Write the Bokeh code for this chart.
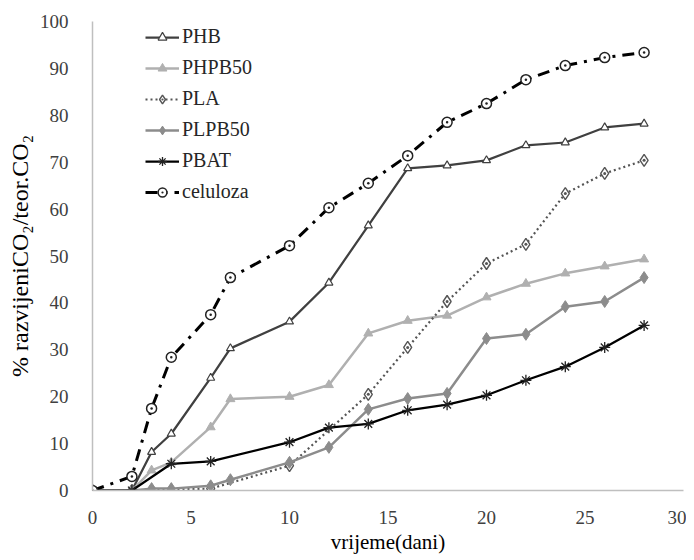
from bokeh.plotting import figure
from bokeh.models import Range1d, FixedTicker, Legend, LegendItem
from bokeh.embed import file_html
from bokeh.resources import INLINE

# ---- data ----
days_phb = [0, 2, 3, 4, 6, 7, 10, 12, 14, 16, 18, 20, 22, 24, 26, 28]
phb = [0, 0, 8.2, 12.1, 24, 30.3, 36, 44.3, 56.5, 68.7, 69.3, 70.4, 73.6, 74.2, 77.4, 78.2]

days_phpb50 = [0, 2, 3, 4, 6, 7, 10, 12, 14, 16, 18, 20, 22, 24, 26, 28]
phpb50 = [0, 0, 4.3, 6, 13.5, 19.5, 20, 22.5, 33.5, 36.2, 37.3, 41.2, 44.1, 46.3, 47.8, 49.3]

days_pla = [0, 2, 6, 10, 14, 16, 18, 20, 22, 24, 26, 28]
pla = [0, 0, 0.4, 5.3, 20.5, 30.5, 40.3, 48.4, 52.5, 63.3, 67.6, 70.4]

days_plpb50 = [0, 2, 3, 4, 6, 7, 10, 12, 14, 16, 18, 20, 22, 24, 26, 28]
plpb50 = [0, 0, 0.4, 0.4, 1, 2.3, 6, 9.2, 17.3, 19.6, 20.7, 32.4, 33.3, 39.2, 40.3, 45.4]

days_pbat = [0, 2, 4, 6, 10, 12, 14, 16, 18, 20, 22, 24, 26, 28]
pbat = [0, 0, 5.7, 6.2, 10.3, 13.4, 14.2, 17.1, 18.3, 20.3, 23.5, 26.4, 30.5, 35.2]

days_cel = [0, 2, 3, 4, 6, 7, 10, 12, 14, 16, 18, 20, 22, 24, 26, 28]
celuloza = [0, 3, 17.5, 28.4, 37.5, 45.4, 52.2, 60.3, 65.5, 71.4, 78.5, 82.5, 87.6, 90.6, 92.3, 93.4]

x_ticks = [0, 5, 10, 15, 20, 25, 30]
y_ticks = [0, 10, 20, 30, 40, 50, 60, 70, 80, 90, 100]

FONT = "Times New Roman"

p = figure(frame_width=591, frame_height=469, output_backend="svg", toolbar_location=None,
           x_range=Range1d(0, 30), y_range=Range1d(0, 100),
           min_border_left=92, min_border_right=3, min_border_top=21, min_border_bottom=62)
p.outline_line_color = None
p.xgrid.visible = False
p.ygrid.visible = False
p.background_fill_color = "white"

for ax in (p.xaxis[0], p.yaxis[0]):
    ax.axis_line_color = "#bfbfbf"
    ax.axis_line_width = 1.5
    ax.major_tick_line_color = None
    ax.minor_tick_line_color = None
    ax.major_label_text_font = FONT
    ax.major_label_text_font_size = "19px"
    ax.major_label_text_color = "#404040"
    ax.axis_label_text_font = FONT
    ax.axis_label_text_font_style = "normal"
    ax.axis_label_text_color = "#000000"

p.xaxis.ticker = FixedTicker(ticks=x_ticks)
p.yaxis.ticker = FixedTicker(ticks=y_ticks)
p.xaxis.major_label_standoff = 14
p.yaxis.major_label_standoff = 18
p.xaxis.axis_label = "vrijeme(dani)"
p.xaxis.axis_label_text_font_size = "21px"
p.xaxis.axis_label_standoff = 3
p.yaxis.axis_label = "% razvijeniCO\u2082/teor.CO\u2082"
p.yaxis.axis_label_text_font_size = "24px"
p.yaxis.axis_label_standoff = 4

items = []

# PHB
l = p.line(days_phb, phb, line_color="#404040", line_width=2.25)
m = p.scatter(days_phb, phb, marker="triangle", size=8, fill_color="white",
              line_color="#404040", line_width=1.2)
items.append(LegendItem(label="PHB", renderers=[l, m]))

# PHPB50
l = p.line(days_phpb50, phpb50, line_color="#b0b0b0", line_width=2.5)
m = p.scatter(days_phpb50, phpb50, marker="triangle", size=9, fill_color="#b0b0b0",
              line_color="#b0b0b0")
items.append(LegendItem(label="PHPB50", renderers=[l, m]))

# PLA
l = p.line(days_pla, pla, line_color="#555555", line_width=2.2, line_dash="2 3")
m = p.scatter(days_pla, pla, marker="diamond_dot", size=12, fill_color="white",
              line_color="#555555", line_width=1.4)
items.append(LegendItem(label="PLA", renderers=[l, m]))

# PLPB50
l = p.line(days_plpb50, plpb50, line_color="#8c8c8c", line_width=2.5)
m = p.scatter(days_plpb50, plpb50, marker="diamond", size=12, fill_color="#8c8c8c",
              line_color="#8c8c8c")
items.append(LegendItem(label="PLPB50", renderers=[l, m]))

# PBAT
l = p.line(days_pbat, pbat, line_color="#000000", line_width=2.25)
m = p.scatter(days_pbat, pbat, marker="asterisk", size=11, line_color="#222222",
              line_width=1.3)
items.append(LegendItem(label="PBAT", renderers=[l, m]))

# celuloza
l = p.line(days_cel, celuloza, line_color="#000000", line_width=3, line_dash="12 7 3 7")
m = p.scatter(days_cel, celuloza, marker="circle_dot", size=10, fill_color="white",
              line_color="#222222", line_width=1.5)
items.append(LegendItem(label="celuloza", renderers=[l, m]))

legend = Legend(items=items, location=(53, 287))
legend.background_fill_alpha = 0
legend.border_line_color = None
legend.label_text_font = FONT
legend.label_text_font_size = "20px"
legend.label_text_color = "#262626"
legend.glyph_width = 34
legend.glyph_height = 22
legend.label_height = 22
legend.label_standoff = 3
legend.spacing = 8
legend.padding = 0
legend.margin = 0
p.add_layout(legend)

open("out.html", "w").write(file_html(p, INLINE))
